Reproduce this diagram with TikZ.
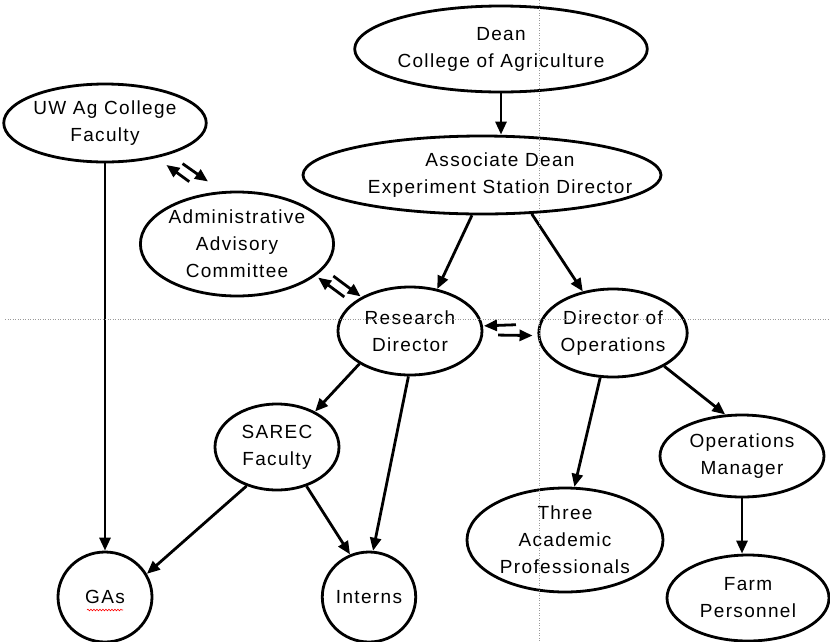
\documentclass[tikz,border=0pt]{standalone}
\usepackage{fontspec}
\setmainfont{Liberation Sans}[LetterSpace=7]
\usetikzlibrary{shapes.geometric, arrows.meta, decorations.pathmorphing}

\begin{document}
\begin{tikzpicture}[x=1pt, y=-1pt, line width=2.8pt, >={Triangle[length=13pt,width=11pt]},
    txt/.style = {align=center, font=\fontsize{19}{27}\selectfont},
    main/.style = {draw, ellipse, inner sep=0pt, txt},
    guide/.style = {draw=gray!80, line width=0.8pt, dash pattern=on 1pt off 1.5pt}]
				\useasboundingbox (0,0) rectangle (830,641);

				\node[main, minimum width=278pt, minimum height=86pt] (dean) at (501,49) {Dean\\College of Agriculture};
				\node[main, minimum width=358pt, minimum height=78pt,
				  label={[txt, xshift=18pt]center:Associate Dean\\Experiment Station Director}] (assoc) at (482,175) {};
				\node[main, minimum width=184pt, minimum height=78pt] (uw) at (105,123) {UW Ag College\\Faculty};
				\node[main, minimum width=188pt, minimum height=104pt] (aac) at (237,244) {Administrative\\Advisory\\Committee};

				\node[main, minimum width=144pt, minimum height=88pt] (rd) at (410,331) {Research\\Director};
				\node[main, minimum width=136pt, minimum height=88pt] (dop) at (613,333) {Director of\\Operations};

				\node[main, minimum width=124pt, minimum height=86pt] (sarec) at (277,447) {SAREC\\Faculty};
				\node[main, minimum width=164pt, minimum height=82pt] (om) at (742,456) {Operations\\Manager};
				\node[main, minimum width=196pt, minimum height=104pt] (three) at (565,540) {Three\\Academic\\Professionals};

				\node[main, minimum width=94pt, minimum height=90pt] (gas) at (105,597) {GAs};
				\node[main, minimum width=92pt, minimum height=90pt] (interns) at (369,597) {Interns};
				\node[main, minimum width=162pt, minimum height=86pt] (farm) at (748,598) {Farm\\Personnel};

				\draw[->] (dean.south) -- (dean.south |- assoc.north);
				\draw[->] (assoc.-104) -- (rd.57);
				\draw[->] (assoc.-38) -- (dop.126);

				\draw[->] (uw.south) -- (gas.north);
				\draw[<-, shorten <=12pt, shorten >=20pt] (uw.-34) -- (aac.122);
				\draw[->, shorten <=16pt, shorten >=17pt] (uw.-26) -- (aac.106);

				\draw[<-, shorten <=3pt, shorten >=10pt] (aac.-22.5) -- (rd.154);
				\draw[->, shorten <=12pt, shorten >=1pt] (aac.-16) -- (rd.145);

				\draw[<-, shorten <=1pt, shorten >=23pt] (rd.4.8) -- (dop.173);
				\draw[->, shorten <=15pt, shorten >=5pt] (rd.-3.2) -- (dop.-178.3);

				\draw[->] (rd.-147) -- (sarec.43);
				\draw[->] (rd.-92) -- (interns.85);
				\draw[->] (sarec.-128) -- (gas.29);
				\draw[->] (sarec.-53) -- (interns.114);

				\draw[->] (dop.-106) -- (three.80);
				\draw[->] (dop.-33) -- (om.112);
				\draw[->] (om.south) -- (om.south |- farm.north);

				% spell check mark
				\draw[red, line width=0.6pt, decorate, decoration={snake, amplitude=0.8pt, segment length=3pt}]
				  ([xshift=-18pt, yshift=-13pt]gas.center) -- ++(36,0);

				% guide lines
				\draw[guide] (5,319) -- (830,319);
				\draw[guide] (539,0) -- (539,641);

			\end{tikzpicture}
\end{document}
